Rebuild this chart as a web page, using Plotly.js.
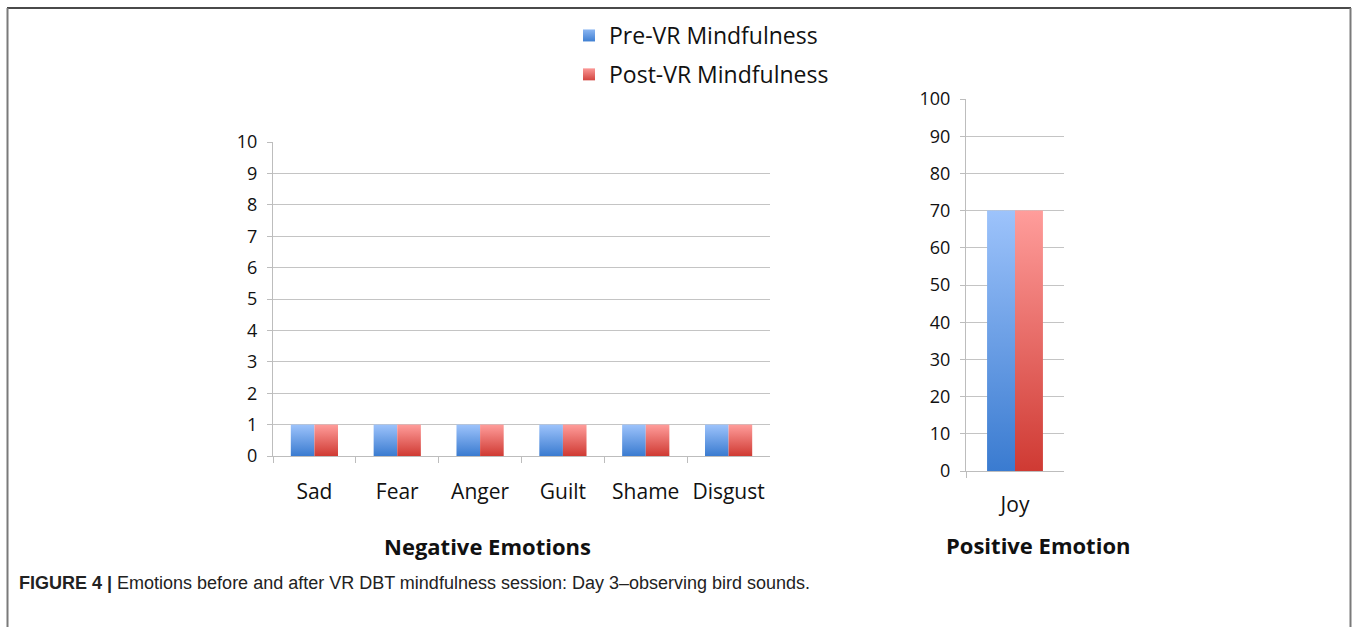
<!DOCTYPE html>
<html>
<head>
<meta charset="utf-8">
<script src="https://cdn.plot.ly/plotly-3.0.1.min.js"></script>
<style>
html,body{margin:0;padding:0;background:#fff;}
#chart{width:1358px;height:627px;}
</style>
</head>
<body>
<div id="chart"></div>
<script>
// ---- data ----
const negCategories = ["Sad", "Fear", "Anger", "Guilt", "Shame", "Disgust"];
const negPre = [1, 1, 1, 1, 1, 1];
const negPost = [1, 1, 1, 1, 1, 1];
const posCategories = ["Joy"];
const posPre = [70];
const posPost = [70];
const seriesNames = ["Pre-VR Mindfulness", "Post-VR Mindfulness"];
const negTicks = [0,1,2,3,4,5,6,7,8,9,10];
const posTicks = [0,10,20,30,40,50,60,70,80,90,100];

const W = 1358, H = 627;
const px = v => v / W;
const py = v => 1 - v / H;

const FONT = "Open Sans, sans-serif";
const blue = "#6a9fe6", red = "#e26b67";

const traces = [
  {type:"bar", x:negCategories, y:negPre, name:seriesNames[0], legendgroup:"pre",
   marker:{color:blue}, xaxis:"x", yaxis:"y", hoverinfo:"y"},
  {type:"bar", x:negCategories, y:negPost, name:seriesNames[1], legendgroup:"post",
   marker:{color:red}, xaxis:"x", yaxis:"y", hoverinfo:"y"},
  {type:"bar", x:posCategories, y:posPre, name:seriesNames[0], legendgroup:"pre", showlegend:false,
   marker:{color:blue}, xaxis:"x2", yaxis:"y2", hoverinfo:"y"},
  {type:"bar", x:posCategories, y:posPost, name:seriesNames[1], legendgroup:"post", showlegend:false,
   marker:{color:red}, xaxis:"x2", yaxis:"y2", hoverinfo:"y"}
];

const axisCommon = {
  showline:true, linecolor:"#bdbdbd", linewidth:1,
  ticks:"outside", tickcolor:"#bdbdbd", ticklen:6, tickwidth:1,
  zeroline:false, fixedrange:true
};

const layout = {
  width:W, height:H,
  margin:{l:0, r:0, t:0, b:0},
  paper_bgcolor:"#fff", plot_bgcolor:"#fff",
  barmode:"group", bargap:0.43, bargroupgap:0,
  font:{family:FONT, color:"#111"},
  showlegend:true,
  legend:{x:px(569), y:py(14), xanchor:"left", yanchor:"top",
          traceorder:"grouped", tracegroupgap:6,
          font:{family:FONT, size:23, color:"#111"}, bgcolor:"rgba(0,0,0,0)"},
  xaxis:Object.assign({}, axisCommon, {
    domain:[px(273), px(770)], anchor:"y", type:"category",
    tickson:"boundaries", showgrid:false, ticklabelstandoff:17,
    tickfont:{family:FONT, size:21, color:"#111"}
  }),
  yaxis:Object.assign({}, axisCommon, {
    domain:[py(456), py(142)], anchor:"x", range:[0,10],
    tickvals:negTicks, ticklen:5, showgrid:true, gridcolor:"#c4c4c4", gridwidth:1,
    ticklabelstandoff:6,
    tickfont:{family:FONT, size:18, color:"#111"}
  }),
  xaxis2:Object.assign({}, axisCommon, {
    domain:[px(966), px(1064)], anchor:"y2", type:"category",
    tickson:"boundaries", showgrid:false, ticklabelstandoff:15,
    tickfont:{family:FONT, size:21, color:"#111"}
  }),
  yaxis2:Object.assign({}, axisCommon, {
    domain:[py(471), py(99)], anchor:"x2", range:[0,100],
    tickvals:posTicks, ticklen:5, showgrid:true, gridcolor:"#c4c4c4", gridwidth:1,
    ticklabelstandoff:6,
    tickfont:{family:FONT, size:18, color:"#111"}
  }),
  annotations:[
    {xref:"paper", yref:"paper", x:px(487), y:py(546), text:"<b>Negative Emotions</b>",
     showarrow:false, xanchor:"center", yanchor:"middle",
     font:{family:FONT, size:22, color:"#111"}},
    {xref:"paper", yref:"paper", x:px(1038), y:py(545), text:"<b>Positive Emotion</b>",
     showarrow:false, xanchor:"center", yanchor:"middle",
     font:{family:FONT, size:22, color:"#111"}},
    {xref:"paper", yref:"paper", x:px(17), y:py(583),
     text:"<b>FIGURE 4 |</b> Emotions before and after VR DBT mindfulness session: Day 3–observing bird sounds.",
     showarrow:false, xanchor:"left", yanchor:"middle",
     font:{family:"Liberation Sans, Arial, sans-serif", size:18, color:"#222"}}
  ],
  shapes:[
    {type:"line", xref:"paper", yref:"paper", x0:px(7), x1:px(1351), y0:py(8), y1:py(8),
     line:{color:"#4a4a4a", width:2}},
    {type:"line", xref:"paper", yref:"paper", x0:px(7.5), x1:px(7.5), y0:py(8), y1:0,
     line:{color:"#7a7a7a", width:2}},
    {type:"line", xref:"paper", yref:"paper", x0:px(1350.5), x1:px(1350.5), y0:py(8), y1:0,
     line:{color:"#7a7a7a", width:2}}
  ]
};

Plotly.newPlot("chart", traces, layout, {displayModeBar:false, staticPlot:true}).then(gd => {
  // add vertical gradients like the original bars
  const svg = gd.querySelector("svg.main-svg");
  const NS = "http://www.w3.org/2000/svg";
  let defs = svg.querySelector("defs");
  if (!defs) { defs = document.createElementNS(NS, "defs"); svg.insertBefore(defs, svg.firstChild); }
  function grad(id, top, bottom) {
    const g = document.createElementNS(NS, "linearGradient");
    g.setAttribute("id", id);
    g.setAttribute("x1","0"); g.setAttribute("y1","0"); g.setAttribute("x2","0"); g.setAttribute("y2","1");
    const s1 = document.createElementNS(NS, "stop"); s1.setAttribute("offset","0"); s1.setAttribute("stop-color", top);
    const s2 = document.createElementNS(NS, "stop"); s2.setAttribute("offset","1"); s2.setAttribute("stop-color", bottom);
    g.appendChild(s1); g.appendChild(s2); defs.appendChild(g);
  }
  grad("gBlue", "#9dc3fb", "#3a7bd0");
  grad("gRed", "#ff9d9b", "#cf3a33");
  grad("gBlueL", "#8bb6f2", "#3f7fd2");
  grad("gRedL", "#fb9896", "#d24540");
  gd.querySelectorAll(".barlayer .trace").forEach((t, i) => {
    const id = (i % 2 === 0) ? "gBlue" : "gRed";
    t.querySelectorAll("path").forEach(p => { p.style.fill = "url(#" + id + ")"; });
  });
  gd.querySelectorAll(".legend .traces").forEach((t, i) => {
    const id = (i % 2 === 0) ? "gBlueL" : "gRedL";
    t.querySelectorAll(".legendpoints path").forEach(p => { p.style.fill = "url(#" + id + ")"; p.style.stroke = "none"; });
  });
});
</script>
</body>
</html>
